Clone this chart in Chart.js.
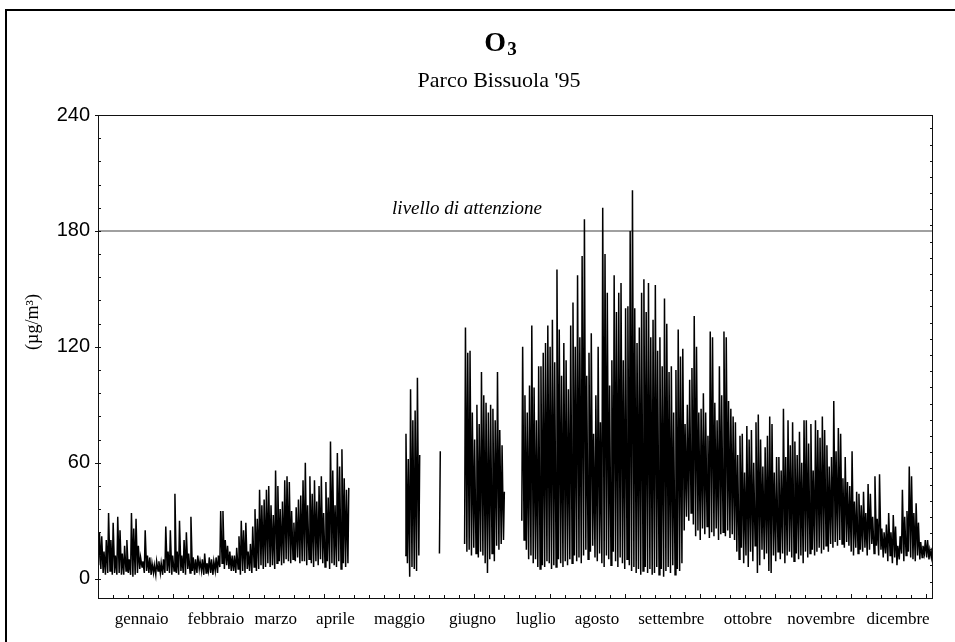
<!DOCTYPE html>
<html lang="it">
<head>
    <meta charset="UTF-8">
    <title>O3 - Parco Bissuola '95</title>
    <script src="https://cdn.jsdelivr.net/npm/chart.js"></script>
    <style>
        * {
            margin: 0;
            padding: 0;
            box-sizing: border-box;
        }

        body {
            background: #fff;
            width: 955px;
            height: 642px;
            overflow: hidden;
            position: relative;
        }

        /* cornice esterna: solo lato sinistro e superiore, come nell'originale */
        .cornice {
            position: absolute;
            left: 5px;
            top: 9px;
            width: 960px;
            height: 640px;
            border-left: 2px solid #000;
            border-top: 2px solid #000;
        }

        canvas {
            position: absolute;
            left: 0;
            top: 0;
        }
    </style>
</head>
<body>
    <div class="cornice"></div>
    <canvas id="o3Chart" width="955" height="642"></canvas>

    <script>
        // Etichette dei mesi e posizione (in giorni dall'inizio dell'anno)
        const mesi = ['gennaio', 'febbraio', 'marzo', 'aprile', 'maggio', 'giugno',
            'luglio', 'agosto', 'settembre', 'ottobre', 'novembre', 'dicembre'];
        const posEtichette = [19.1, 51.5, 77.7, 103.8, 131.8, 163.7, 191.4, 218.1, 250.6, 284.1, 316.1, 349.7];
        const tickY = [0, 60, 120, 180, 240];
        const soglia = 180; // livello di attenzione

        // Valori giornalieri (ug/m3): massimo e minimo di ogni giorno, null = dato mancante
        const maxGen = [24, 22, 14, 20, 34, 20, 29, 12, 32, 25, 13, 17, 20, 10, 34, 26, 31, 17, 11, 9, 25, 12, 11, 8, 7, 9, 9, 8, 10, 27, 14];
        const minGen = [7, 5, 3, 2, 3, 4, 2, 3, 2, 3, 2, 2, 4, 3, 2, 1, 2, 3, 5, 6, 3, 4, 3, 2, 3, 2, 4, 3, 2, 3, 4];

        const maxFeb = [25, 12, 44, 14, 30, 12, 20, 24, 13, 32, 11, 10, 12, 9, 10, 13, 8, 11, 10, 9, 11, 12, 35, 35, 20, 17, 14, 12];
        const minFeb = [3, 2, 4, 3, 2, 4, 3, 2, 5, 3, 4, 2, 3, 5, 4, 2, 3, 4, 3, 2, 4, 3, 6, 8, 5, 7, 5, 4];

        const maxMar = [12, 16, 22, 30, 25, 29, 14, 18, 27, 36, 31, 46, 38, 41, 46, 48, 38, 33, 56, 48, 36, 40, 51, 53, 50, 35, 29, 37, 41, 43, 51];
        const minMar = [4, 3, 5, 2, 4, 3, 5, 4, 3, 6, 4, 5, 7, 5, 6, 8, 6, 7, 5, 8, 9, 7, 8, 10, 9, 8, 10, 9, 11, 8, 9];

        const maxApr = [60, 38, 53, 44, 51, 40, 48, 53, 34, 50, 42, 71, 56, 38, 65, 58, 67, 52, 46, 47,
            null, null, null, null, null, null, null, null, null, null];
        const minApr = [9, 7, 10, 8, 6, 9, 7, 10, 8, 6, 9, 5, 8, 7, 6, 9, 5, 8, 6, 8,
            null, null, null, null, null, null, null, null, null, null];

        const maxMag = [null, null, null, null, null, null, null, null, null, null, null, null, null, null,
            75, 62, 98, 82, 87, 104, 64,
            null, null, null, null, null, null, null, null, 66, null];
        const minMag = [null, null, null, null, null, null, null, null, null, null, null, null, null, null,
            12, 8, 1, 6, 5, 4, 12,
            null, null, null, null, null, null, null, null, 13, null];

        const maxGiu = [null, null, null, null, null, null, null, null, null,
            130, 117, 118, 86, 72, 90, 80, 107, 95, 91, 86, 90, 88, 82, 107, 77, 69, 45,
            null, null, null];
        const minGiu = [null, null, null, null, null, null, null, null, null,
            18, 14, 15, 12, 16, 13, 11, 14, 12, 8, 3, 10, 13, 9, 17, 15, 18, 20,
            null, null, null];

        const maxLug = [null, null, null, null,
            120, 95, 86, 100, 131, 99, 82, 110, 110, 117, 122, 131, 120, 134, 112, 160, 129, 105, 122, 113, 98, 131, 143, 120, 157, 125, 167];
        const minLug = [null, null, null, null,
            30, 20, 15, 10, 12, 8, 10, 6, 5, 7, 6, 9, 8, 5, 7, 6, 10, 8, 6, 9, 7, 10, 8, 12, 9, 11, 8];

        const maxAgo = [186, 105, 117, 127, 75, 95, 120, 81, 192, 168, 148, 100, 113, 157, 138, 148, 153, 113, 140, 141, 180, 201, 140, 122, 130, 148, 155, 138, 153, 125, 134];
        const minAgo = [12, 15, 10, 14, 17, 11, 9, 13, 8, 6, 12, 10, 7, 14, 9, 6, 11, 8, 5, 10, 7, 4, 6, 3, 5, 2, 4, 6, 3, 5, 2];

        const maxSet = [152, 118, 125, 110, 145, 132, 107, 110, 86, 108, 129, 115, 119, 80, 90, 103, 109, 136, 120, 86, 88, 96, 86, 74, 128, 125, 91, 82, 110, 95];
        const minSet = [3, 6, 2, 5, 1, 4, 6, 3, 7, 2, 5, 4, 8, 25, 32, 30, 34, 28, 22, 25, 20, 26, 23, 27, 21, 24, 22, 26, 20, 23];

        const maxOtt = [128, 125, 92, 88, 84, 81, 64, 74, 75, 55, 79, 72, 77, 60, 81, 85, 72, 58, 68, 74, 84, 80, 55, 63, 63, 56, 88, 63, 82, 69, 81];
        const minOtt = [24, 22, 25, 21, 23, 20, 14, 10, 16, 8, 12, 6, 14, 9, 17, 3, 7, 15, 10, 13, 4, 3, 12, 9, 14, 10, 13, 8, 12, 14, 11];

        const maxNov = [71, 64, 76, 60, 82, 82, 70, 80, 56, 82, 77, 73, 84, 77, 69, 58, 63, 92, 66, 78, 75, 52, 63, 50, 48, 66, 40, 45, 44, 38];
        const minNov = [9, 13, 10, 12, 8, 14, 11, 13, 15, 12, 14, 16, 13, 15, 17, 14, 18, 16, 19, 17, 20, 18, 16, 19, 17, 14, 12, 16, 13, 15];

        const maxDic = [45, 34, 49, 44, 32, 53, 31, 54, 26, 24, 28, 34, 24, 33, 27, 17, 22, 46, 32, 35, 58, 53, 34, 39, 29, 19, 17, 20, 20, 15, 16];
        const minDic = [14, 16, 12, 15, 18, 13, 17, 12, 15, 11, 13, 9, 12, 8, 11, 7, 10, 13, 9, 12, 14, 11, 10, 9, 12, 10, 11, 13, 11, 10, 11];

        const massimi = [maxGen, maxFeb, maxMar, maxApr, maxMag, maxGiu, maxLug, maxAgo, maxSet, maxOtt, maxNov, maxDic];
        const minimi = [minGen, minFeb, minMar, minApr, minMag, minGiu, minLug, minAgo, minSet, minOtt, minNov, minDic];

        // Serie: minimo al mattino, massimo nel pomeriggio, giorno per giorno
        const punti = [];
        let giorno = 0;
        massimi.forEach((mese, m) => {
            mese.forEach((mx, i) => {
                if (mx === null) {
                    punti.push({ x: giorno + 0.5, y: null });
                } else {
                    punti.push({ x: giorno + 0.25, y: minimi[m][i] });
                    punti.push({ x: giorno + 0.625, y: mx });
                }
                giorno++;
            });
        });
        const giorniAnno = giorno;

        // Tacche degli assi (passo in unita' degli assi)
        const PASSO_X = 6.58;
        const PASSO_Y = 12;
        const INIZIO_DX = -1.55;
        const PASSO_DX = 8.38;

        const decorazioni = {
            id: 'decorazioni',
            afterDatasetsDraw(chart) {
                const { ctx, chartArea: a, scales: { x, y } } = chart;
                ctx.save();

                // riquadro del grafico
                ctx.strokeStyle = '#111';
                ctx.lineWidth = 1;
                ctx.strokeRect(a.left + 0.5, a.top + 0.5, a.right - a.left - 1, a.bottom - a.top);

                // tacche interne
                ctx.beginPath();
                for (let k = 0; k * PASSO_X <= giorniAnno; k++) {
                    const px = Math.round(x.getPixelForValue(k * PASSO_X)) + 0.5;
                    const lung = k % 5 === 0 ? 4 : 3;
                    ctx.moveTo(px, a.bottom);
                    ctx.lineTo(px, a.bottom - lung);
                }
                for (let v = 0; v <= 240; v += PASSO_Y) {
                    const py = Math.round(y.getPixelForValue(v)) + 0.5;
                    const fuori = v % 60 === 0 ? 3 : 0;
                    ctx.moveTo(a.left - fuori, py);
                    ctx.lineTo(a.left + 3, py);
                }
                for (let k = 0; INIZIO_DX + k * PASSO_DX <= 240; k++) {
                    const py = Math.round(y.getPixelForValue(INIZIO_DX + k * PASSO_DX)) + 0.5;
                    ctx.moveTo(a.right, py);
                    ctx.lineTo(a.right - 3, py);
                }
                ctx.stroke();

                // scritta del livello di attenzione
                ctx.fillStyle = '#000';
                ctx.font = 'italic 19px "Liberation Serif"';
                ctx.textAlign = 'center';
                ctx.textBaseline = 'alphabetic';
                ctx.fillText('livello di attenzione', x.getPixelForValue(161.3), y.getPixelForValue(188.6));

                ctx.restore();
            },
            afterDraw(chart) {
                const { ctx } = chart;
                ctx.save();
                ctx.fillStyle = '#000';
                ctx.textBaseline = 'alphabetic';

                // titolo O3 con pedice
                ctx.font = 'bold 28px "Liberation Serif"';
                const wO = ctx.measureText('O').width;
                ctx.font = 'bold 19px "Liberation Serif"';
                const w3 = ctx.measureText('3').width;
                const x0 = 500 - (wO + w3) / 2;
                ctx.textAlign = 'left';
                ctx.font = 'bold 28px "Liberation Serif"';
                ctx.fillText('O', x0, 51);
                ctx.font = 'bold 19px "Liberation Serif"';
                ctx.fillText('3', x0 + wO + 1, 55);

                // sottotitolo
                ctx.textAlign = 'center';
                ctx.font = '22px "Liberation Serif"';
                ctx.fillText("Parco Bissuola '95", 499, 87);

                // titolo asse y
                ctx.translate(38, 322);
                ctx.rotate(-Math.PI / 2);
                ctx.font = '18px "Liberation Serif"';
                ctx.fillText('(\u00b5g/m\u00b3)', 0, 0);

                ctx.restore();
            }
        };

        const ctx = document.getElementById('o3Chart').getContext('2d');
        const o3Chart = new Chart(ctx, {
            type: 'line',
            data: {
                datasets: [{
                    label: 'O3',
                    data: punti,
                    borderColor: '#000',
                    borderWidth: 1.5,
                    pointRadius: 0,
                    tension: 0,
                    spanGaps: false,
                    order: 0
                }, {
                    label: 'livello di attenzione',
                    data: [{ x: 0, y: soglia }, { x: giorniAnno, y: soglia }],
                    borderColor: '#808080',
                    borderWidth: 1.5,
                    pointRadius: 0,
                    order: 1
                }]
            },
            options: {
                responsive: false,
                devicePixelRatio: 1,
                animation: false,
                events: [],
                layout: {
                    padding: { left: 0, top: 115, right: 22, bottom: 0 }
                },
                scales: {
                    x: {
                        type: 'linear',
                        min: 0,
                        max: giorniAnno,
                        afterBuildTicks: (scale) => {
                            scale.ticks = posEtichette.map(v => ({ value: v }));
                        },
                        afterFit: (scale) => {
                            scale.height = 44;
                        },
                        ticks: {
                            autoSkip: false,
                            maxRotation: 0,
                            padding: 11,
                            color: '#000',
                            font: { family: 'Liberation Serif', size: 17 },
                            callback: (value, index) => mesi[index]
                        },
                        grid: { display: false, drawTicks: false },
                        border: { display: false }
                    },
                    y: {
                        type: 'linear',
                        min: -10,
                        max: 240,
                        afterBuildTicks: (scale) => {
                            scale.ticks = tickY.map(v => ({ value: v }));
                        },
                        afterFit: (scale) => {
                            scale.width = 98;
                        },
                        ticks: {
                            padding: 8,
                            color: '#000',
                            font: { family: 'Liberation Sans', size: 20 }
                        },
                        grid: { display: false, drawTicks: false },
                        border: { display: false }
                    }
                },
                plugins: {
                    legend: { display: false },
                    tooltip: { enabled: false }
                }
            },
            plugins: [decorazioni]
        });
    </script>
</body>
</html>
